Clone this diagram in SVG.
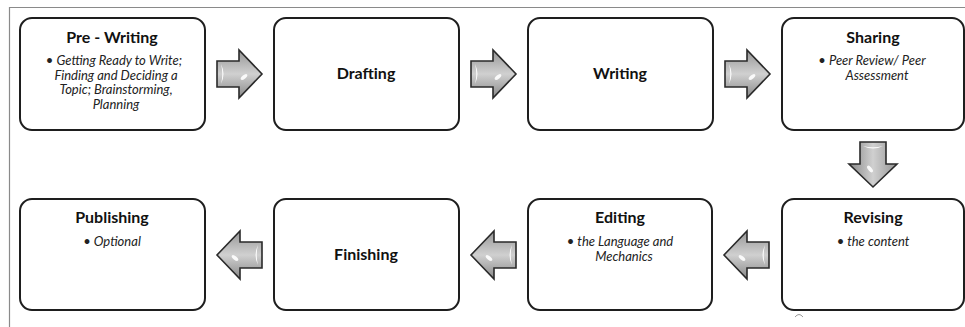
<svg xmlns="http://www.w3.org/2000/svg" width="965" height="327" viewBox="0 0 965 327">
<style>
.box{fill:#fff;stroke:#1e1e1e;stroke-width:2}
.title{font-family:Lato,"Liberation Sans",sans-serif;font-weight:bold;font-size:16px;fill:#111;text-anchor:middle}
.item{font-family:Lato,"Liberation Sans",sans-serif;font-style:italic;font-size:13px;fill:#222;text-anchor:middle}
.frame{stroke:#8a8a8a;stroke-width:1.2;fill:none}
</style>
<defs>
<linearGradient id="ag" x1="0" y1="0" x2="0" y2="1">
<stop offset="0" stop-color="#959595"/>
<stop offset="0.5" stop-color="#d0d0d0"/>
<stop offset="1" stop-color="#888"/>
</linearGradient>
<g id="arrow">
<path d="M-22,-13 H0 V-24 L23,0 L0,24 V13 H-22 Z" fill="url(#ag)" stroke="#2a2a2a" stroke-width="1.6" stroke-linejoin="miter"/>
<path d="M-18,-10 Q-13,0 -18,10 Q-15.5,0 -18,-10 Z" fill="#fff" opacity="0.9"/>
<ellipse cx="5" cy="3" rx="4" ry="1.8" transform="rotate(-40 5 3)" fill="#fff" opacity="0.9"/>
</g>
</defs>
<path class="frame" d="M9.5,327 V7.5 H965"/>
<g id="connectors">
<use href="#arrow" transform="translate(239,74)"/>
<use href="#arrow" transform="translate(493,74)"/>
<use href="#arrow" transform="translate(747,74)"/>
<use href="#arrow" transform="translate(873,164) rotate(90)"/>
<use href="#arrow" transform="translate(747,255) scale(-1,1)"/>
<use href="#arrow" transform="translate(494,255) scale(-1,1)"/>
<use href="#arrow" transform="translate(240,255) scale(-1,1)"/>
</g>
<g id="prewriting">
<rect class="box" x="20" y="18" width="185" height="112" rx="12"/>
<text class="title" x="112" y="43">Pre - Writing</text>
<text class="item" x="114" y="65">• Getting Ready to Write;</text>
<text class="item" x="116" y="79.5">Finding and Deciding a</text>
<text class="item" x="116" y="94">Topic; Brainstorming,</text>
<text class="item" x="116" y="108.5">Planning</text>
</g>
<g id="drafting">
<rect class="box" x="274" y="18" width="185" height="112" rx="12"/>
<text class="title" x="366" y="79">Drafting</text>
</g>
<g id="writing">
<rect class="box" x="528" y="18" width="185" height="112" rx="12"/>
<text class="title" x="620" y="79">Writing</text>
</g>
<g id="sharing">
<rect class="box" x="782" y="18" width="182" height="112" rx="12"/>
<text class="title" x="873" y="43">Sharing</text>
<text class="item" x="872" y="65">• Peer Review/ Peer</text>
<text class="item" x="877" y="79.5">Assessment</text>
</g>
<g id="revising">
<rect class="box" x="782" y="199" width="182" height="111" rx="12"/>
<text class="title" x="873" y="223">Revising</text>
<text class="item" x="873" y="246">• the content</text>
<path d="M795,317 Q799,312 803,317" fill="none" stroke="#999" stroke-width="1"/>
</g>
<g id="editing">
<rect class="box" x="528" y="199" width="184" height="111" rx="12"/>
<text class="title" x="620" y="223">Editing</text>
<text class="item" x="620" y="246">• the Language and</text>
<text class="item" x="624" y="260.5">Mechanics</text>
</g>
<g id="finishing">
<rect class="box" x="274" y="199" width="185" height="111" rx="12"/>
<text class="title" x="366" y="260">Finishing</text>
</g>
<g id="publishing">
<rect class="box" x="20" y="199" width="185" height="111" rx="12"/>
<text class="title" x="112" y="223">Publishing</text>
<text class="item" x="112" y="246">• Optional</text>
</g>
</svg>
